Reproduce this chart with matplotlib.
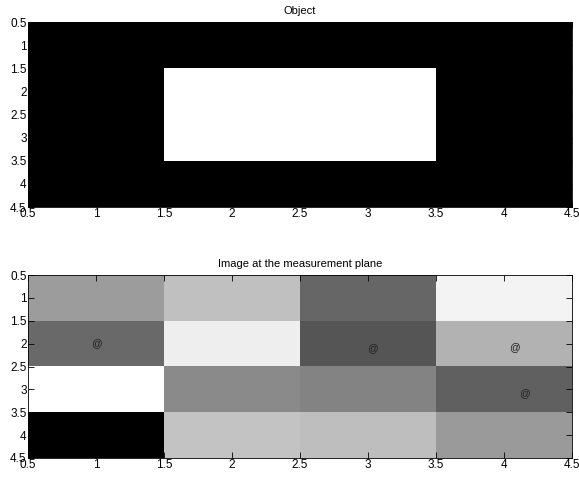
import numpy as np
from matplotlib import pyplot as plt

plt.rcParams['font.family'] = ['Liberation Sans', 'DejaVu Sans']
plt.rcParams['font.size'] = 8.5

# object: 4x4 grid, 1 = white
obj = [[0, 0, 0, 0],
       [0, 1, 1, 0],
       [0, 1, 1, 0],
       [0, 0, 0, 0]]

# image at measurement plane (gray levels 0-255)
meas = [[156, 192, 102, 244],
        [106, 238, 85, 178],
        [255, 138, 132, 96],
        [0, 196, 190, 154]]

# "@" marker positions
at_x = [1.0, 3.03, 4.08, 4.15]
at_y = [2.0, 2.1, 2.08, 3.08]

ticks = [0.5, 1, 1.5, 2, 2.5, 3, 3.5, 4, 4.5]
ticklabels = ["0.5", "1", "1.5", "2", "2.5", "3", "3.5", "4", "4.5"]

fig = plt.figure(figsize=(5.79, 4.82), dpi=100)
ax1 = fig.add_axes([28/579, 1-207/482, 544/579, 185/482])
ax2 = fig.add_axes([28/579, 1-458/482, 544/579, 183/482])


def style(ax, title):
    ax.set_xlim(0.5, 4.5)
    ax.set_ylim(4.5, 0.5)
    ax.set_xticks(ticks)
    ax.set_yticks(ticks)
    ax.set_xticklabels(ticklabels)
    ax.set_yticklabels(ticklabels)
    ax.tick_params(direction='in', length=4, width=0.6, top=True, right=True, pad=1)
    for s in ax.spines.values():
        s.set_linewidth(0.6)
    # title a little smaller than tick labels, as in the original
    ax.set_title(title, fontsize=8, pad=6)


ax1.imshow(np.array(obj), cmap='gray', vmin=0, vmax=1,
           extent=[0.5, 4.5, 4.5, 0.5], interpolation='nearest', aspect='auto')
style(ax1, "Object")

ax2.imshow(np.array(meas), cmap='gray', vmin=0, vmax=255,
           extent=[0.5, 4.5, 4.5, 0.5], interpolation='nearest', aspect='auto')
for x, y in zip(at_x, at_y):
    ax2.text(x, y, "@", ha='center', va='center', fontsize=7.5, color='#222222')
style(ax2, "Image at the measurement plane")

fig.savefig("out.png", dpi=100)
